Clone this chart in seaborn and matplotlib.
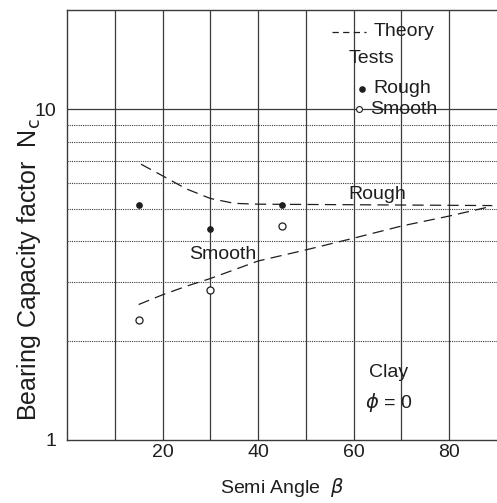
import matplotlib
matplotlib.use("Agg")
import matplotlib.pyplot as plt
from matplotlib.ticker import FixedLocator, NullFormatter
import seaborn as sns
import pandas as pd

# ---- data ----
test_angle = [15, 30, 45]
rough_tests = [5.14, 4.35, 5.14]
smooth_tests = [2.31, 2.85, 4.44]

theory_rough_angle = [15.5, 20, 25, 30, 35, 40, 50, 60, 70, 80, 89]
theory_rough = [6.83, 6.30, 5.75, 5.38, 5.20, 5.17, 5.16, 5.15, 5.14, 5.13, 5.12]

theory_smooth_angle = [15, 20, 25, 30, 40, 50, 60, 70, 80, 89]
theory_smooth = [2.57, 2.75, 2.92, 3.08, 3.48, 3.76, 4.08, 4.44, 4.76, 5.10]

x_ticks = [20, 40, 60, 80]
y_ticks = [1, 10]
y_minor = [2, 3, 4, 5, 6, 7, 8, 9]
x_grid = [10, 20, 30, 40, 50, 60, 70, 80]

sns.set_theme(style="white")
plt.rcParams["font.family"] = ["Liberation Sans", "DejaVu Sans"]
plt.rcParams["mathtext.fontset"] = "dejavusans"
ink = "#1e1e1e"
grid = "#3a3a3a"

fig = plt.figure(figsize=(4.97, 5.03), dpi=100)
ax = fig.add_axes([67 / 497, 63 / 503, 430 / 497, 430 / 503])

df_tr = pd.DataFrame({"x": theory_rough_angle, "y": theory_rough})
df_ts = pd.DataFrame({"x": theory_smooth_angle, "y": theory_smooth})
df_t = pd.DataFrame({"x": test_angle, "rough": rough_tests, "smooth": smooth_tests})

ax.set_yscale("log")
ax.set_xlim(0, 90)
ax.set_ylim(1, 20)

# grid
for gx in x_grid:
    ax.axvline(gx, color=grid, lw=0.9, zorder=1)
ax.axhline(10, color=grid, lw=0.9, zorder=1)
for gy in y_minor:
    ax.axhline(gy, color=grid, lw=0.8, ls=(0, (1, 1)), zorder=1)

dash = (0, (9, 5))
sns.lineplot(data=df_tr, x="x", y="y", ax=ax, color=ink, lw=0.9, zorder=3)
sns.lineplot(data=df_ts, x="x", y="y", ax=ax, color=ink, lw=0.9, zorder=3)
for ln in ax.get_lines()[-2:]:
    ln.set_linestyle(dash)

sns.scatterplot(data=df_t, x="x", y="rough", ax=ax, color=ink, s=16,
                edgecolor=ink, linewidth=0.8, zorder=4)
sns.scatterplot(data=df_t, x="x", y="smooth", ax=ax, color="white", s=26,
                edgecolor=ink, linewidth=0.9, zorder=4)

ax.set_xticks(x_ticks)
ax.set_xticklabels([str(v) for v in x_ticks])
ax.yaxis.set_major_locator(FixedLocator(y_ticks))
ax.set_yticklabels([str(v) for v in y_ticks])
ax.yaxis.set_minor_locator(FixedLocator(y_minor))
ax.yaxis.set_minor_formatter(NullFormatter())
ax.tick_params(axis="both", which="both", length=0, labelsize=14, colors=ink)
ax.tick_params(axis="x", pad=3)
ax.tick_params(axis="y", pad=8)

for side in ["left", "bottom", "top"]:
    ax.spines[side].set_color(grid)
    ax.spines[side].set_linewidth(1.0)
ax.spines["right"].set_visible(False)

ax.set_xlabel(r"Semi Angle  $\beta$", fontsize=14, color=ink, labelpad=11)
ax.set_ylabel("")
fig.text(29 / 497, 1 - 270 / 503, r"Bearing Capacity factor  N$_\mathrm{c}$",
         rotation=90, ha="center", va="center", fontsize=18, color=ink)

# curve labels
ax.text(65, 5.55, "Rough", ha="center", va="center", fontsize=14, color=ink, zorder=5)
ax.text(32.7, 3.63, "Smooth", ha="center", va="center", fontsize=14, color=ink, zorder=5)
ax.text(67.3, 1.60, "Clay", ha="center", va="center", fontsize=14, color=ink)
ax.text(67.3, 1.30, r"$\phi$ = 0", ha="center", va="center", fontsize=14, color=ink)

# legend (drawn as annotation)
ax.plot([55.4, 62.5], [17.2, 17.2], color=ink, lw=0.9, ls=(0, (5, 3.5)), zorder=5)
ax.text(64.2, 17.2, "Theory", ha="left", va="center", fontsize=14, color=ink)
ax.text(59.0, 14.25, "Tests", ha="left", va="center", fontsize=14, color=ink)
ax.scatter([61.7], [11.57], s=14, color=ink, zorder=5)
ax.text(64.2, 11.57, "Rough", ha="left", va="center", fontsize=14, color=ink)
ax.scatter([61.2], [10.0], s=18, color="white", edgecolor=ink, linewidth=0.8, zorder=5)
ax.text(63.5, 10.0, "Smooth", ha="left", va="center", fontsize=14, color=ink)

fig.savefig("out.png", dpi=100, facecolor="white")
